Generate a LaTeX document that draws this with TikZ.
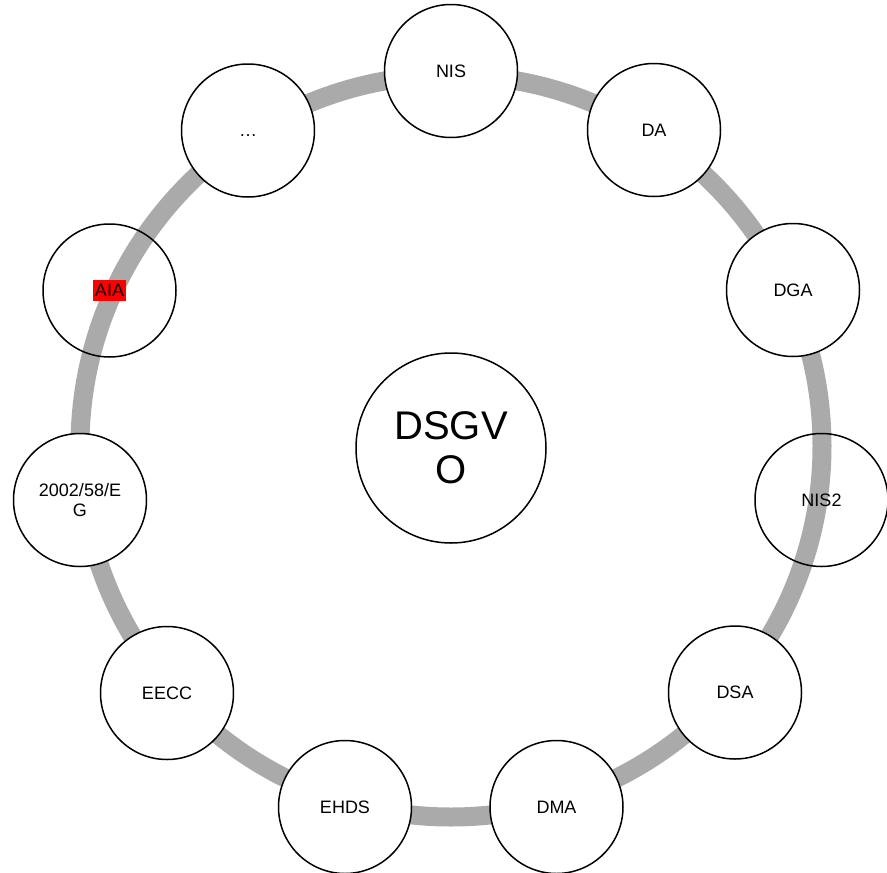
\documentclass[tikz,border=0pt]{standalone}
\usepackage{fontspec}
\setmainfont{Liberation Sans}
\definecolor{ringgray}{RGB}{170,170,170}
\definecolor{aiared}{RGB}{255,0,0}
\begin{document}
\begin{tikzpicture}[x=1pt,y=-1pt,
  ring/.style={draw=ringgray,line width=19pt},
  law/.style={circle,draw=black,line width=1.5pt,fill=white,minimum size=133pt,inner sep=0pt,
    align=center,font=\fontsize{18}{20}\selectfont},
  openlaw/.style={law,fill=none},
  hub/.style={circle,draw=black,line width=1.5pt,fill=white,minimum size=190pt,inner sep=0pt,
    align=center,font=\fontsize{40}{44}\selectfont},
  redtag/.style={fill=aiared,inner xsep=1.5pt,inner ysep=4pt,font=\fontsize{18}{20}\selectfont}]
\useasboundingbox (0,0) rectangle (887,873);
\coordinate (rc) at (451,446);
\draw[ring] (rc) circle[radius=371];
\node[hub] (dsgvo) at (451,448) {DSGV\\O};
\node[law] (nis) at (451,71) {NIS};
\node[law] (da) at (654,130) {DA};
\node[law] (dga) at (793,290) {DGA};
\node[openlaw] (nis2) at (821.5,500) {NIS2};
\node[law] (dsa) at (735,692.5) {DSA};
\node[law] (dma) at (556.5,807) {DMA};
\node[law] (ehds) at (345,807) {EHDS};
\node[law] (eecc) at (167,693) {EECC};
\node[law] (eg) at (80,500) {2002/58/E\\G};
\node[openlaw] (aia) at (109.5,290.5) {};
\node[redtag] (aiatext) at (aia.center) {AIA};
\node[law] (more) at (248,130.5) {\vphantom{A}…};
\end{tikzpicture}
\end{document}
